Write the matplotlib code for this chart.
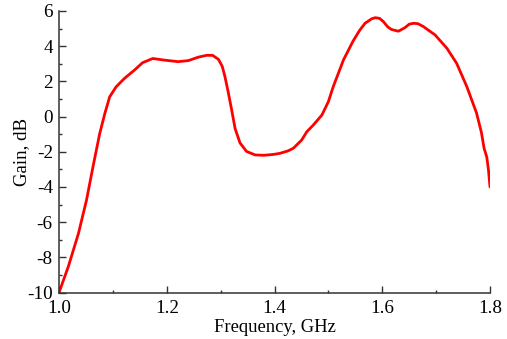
import matplotlib
matplotlib.use("Agg")
import matplotlib.pyplot as plt
from matplotlib.ticker import MultipleLocator

freq = [1.000, 1.017, 1.036, 1.051, 1.063, 1.0755, 1.085, 1.094, 1.106, 1.1215, 1.140,
        1.155, 1.174, 1.195, 1.221, 1.240, 1.259, 1.274, 1.285, 1.296, 1.303, 1.308,
        1.314, 1.320, 1.327, 1.336, 1.348, 1.364, 1.380, 1.398, 1.410, 1.425, 1.435,
        1.4505, 1.460, 1.472, 1.488, 1.500, 1.509, 1.528, 1.546, 1.558,
        1.568, 1.580, 1.587, 1.595, 1.602, 1.610, 1.617, 1.630, 1.642, 1.650, 1.658,
        1.666, 1.676, 1.698, 1.720, 1.738, 1.757, 1.775, 1.784, 1.789, 1.794, 1.797,
        1.800]
gain = [-10.0, -8.55, -6.65, -4.75, -2.86, -0.97, 0.17, 1.12, 1.69, 2.17, 2.64,
        3.06, 3.30, 3.21, 3.12, 3.18, 3.38, 3.48, 3.48, 3.25, 2.85, 2.27,
        1.4, 0.45, -0.7, -1.5, -1.98, -2.18, -2.2, -2.15, -2.09, -1.95, -1.80,
        -1.33, -0.86, -0.48, 0.09, 0.85, 1.7, 3.22, 4.3, 4.9,
        5.3, 5.55, 5.62, 5.58, 5.4, 5.1, 4.95, 4.85, 5.05, 5.25, 5.3,
        5.28, 5.12, 4.64, 3.88, 3.03, 1.7, 0.2, -0.9, -1.8, -2.3, -3.0,
        -4.0]

xticks = [1.0, 1.2, 1.4, 1.6, 1.8]
yticks = [-10, -8, -6, -4, -2, 0, 2, 4, 6]

plt.rcParams['font.family'] = ['Liberation Serif', 'DejaVu Serif']

fig = plt.figure(figsize=(5.07, 3.39), dpi=100)
ax = fig.add_axes([0.1164, 0.137, 0.8501, 0.8306])
ax.plot(freq, gain, color='#ff0000', lw=2.0, solid_joinstyle='round', solid_capstyle='round')

ax.set_xlim(1.0, 1.8)
ax.set_ylim(-10, 6)
ax.set_xticks(xticks)
ax.set_xticklabels([f"{t:.1f}" for t in xticks])
ax.set_yticks(yticks)
ax.set_yticklabels([str(t) for t in yticks])
ax.xaxis.set_minor_locator(MultipleLocator(0.1))
ax.yaxis.set_minor_locator(MultipleLocator(1))

for s in ['top', 'right']:
    ax.spines[s].set_visible(False)
for s in ['left', 'bottom']:
    ax.spines[s].set_linewidth(1.1)
    ax.spines[s].set_color('#333333')

ax.tick_params(which='major', direction='in', length=5, width=1.0, color='#333333',
               labelsize=13.8)
ax.tick_params(axis='x', which='major', pad=5)
ax.tick_params(axis='y', which='major', pad=4.5)
ax.tick_params(which='minor', direction='in', length=2.5, width=1.0, color='#333333')

ax.set_xlabel('Frequency, GHz', fontsize=13.4, labelpad=1.5)
ax.set_ylabel('Gain, dB', fontsize=13.6, labelpad=-2)

fig.savefig('out.png', dpi=100)
